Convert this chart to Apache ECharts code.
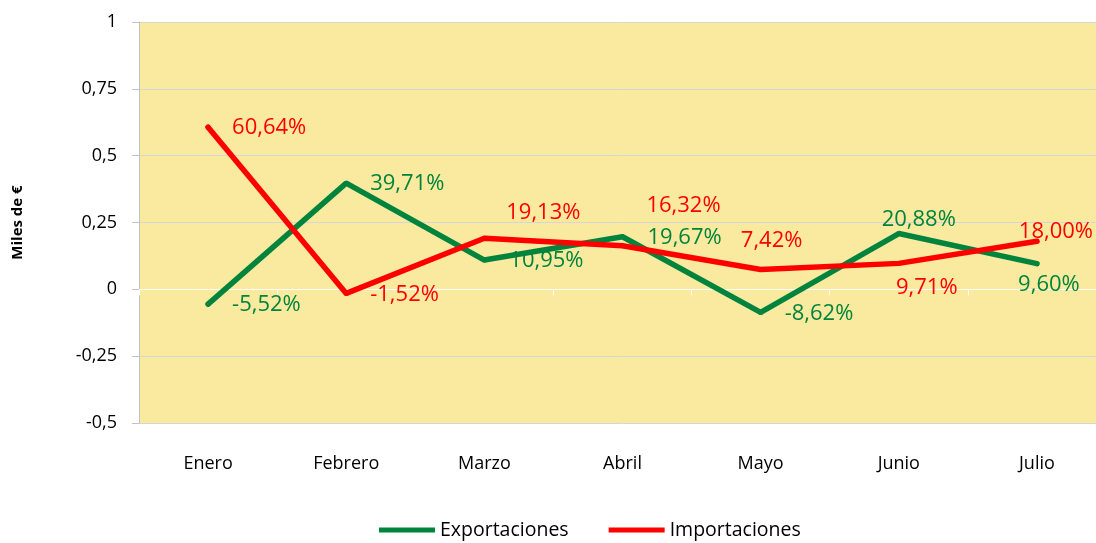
<!DOCTYPE html>
<html>
<head>
<meta charset="utf-8">
<title>Exportaciones e Importaciones</title>
<script src="https://cdn.jsdelivr.net/npm/echarts@6/dist/echarts.min.js"></script>
<style>
	html,body{margin:0;padding:0;background:#fff;overflow:hidden;}
	/* el area de trazado sigue un poco mas alla del borde derecho, como en el original */
	#main{width:1106px;height:543px;}
</style>
</head>
<body>
<div id="main"></div>
<script type="text/javascript">
	var meses = ['Enero','Febrero','Marzo','Abril','Mayo','Junio','Julio'];
	var exportaciones = [-0.0552, 0.3971, 0.1095, 0.1967, -0.0862, 0.2088, 0.0960];
	var importaciones = [0.6064, -0.0152, 0.1913, 0.1632, 0.0742, 0.0971, 0.1800];
	var ticksY = [-0.5, -0.25, 0, 0.25, 0.5, 0.75, 1];

	var verde = '#00843d';
	var rojo = '#ff0000';
	var fuente = '"Open Sans", "Liberation Sans", sans-serif';

	// desplazamiento de cada etiqueta respecto a su punto (px) y alineacion
	var etqExp = [
		{align:'left', off:[24,1]},
		{align:'left', off:[24,1]},
		{align:'left', off:[25,1]},
		{align:'left', off:[25,1]},
		{align:'left', off:[24,1]},
		{align:'center', off:[20,-14]},
		{align:'center', off:[12,21]}
	];
	var etqImp = [
		{align:'left', off:[24,1]},
		{align:'left', off:[24,1]},
		{align:'center', off:[59,-25]},
		{align:'center', off:[61,-40]},
		{align:'center', off:[11,-29]},
		{align:'center', off:[28,24]},
		{align:'center', off:[19,-9]}
	];

	function pct(v){
		return (v*100).toFixed(2).replace('.', ',') + '%';
	}

	function armarDatos(vals, etq, color){
		var out = [];
		for(var i=0;i<vals.length;i++){
			out.push({
				value: vals[i],
				label: {show: true, position: 'inside', align: etq[i].align, verticalAlign: 'middle', offset: etq[i].off, color: color}
			});
		}
		return out;
	}

	var myChart = echarts.init(document.getElementById('main'));
	var option = {
		animation: false,
		textStyle: {fontFamily: fuente},
		grid: {left: 139, top: 22, right: 0, bottom: 120},
		legend: {
			bottom: -2,
			left: 374,
			itemWidth: 56,
			itemHeight: 5,
			itemGap: 40,
			icon: 'rect',
			textStyle: {fontSize: 19.5, color: '#000', fontFamily: fuente},
			data: ['Exportaciones','Importaciones']
		},
		xAxis: [
			{
				type: 'category',
				data: meses,
				position: 'bottom',
				axisLine: {show: false, onZero: false},
				axisTick: {show: false},
				axisLabel: {margin: 32, fontSize: 18, color: '#000'}
			},
			{
				type: 'category',
				data: meses,
				position: 'top',
				axisLine: {show: true, onZero: true, lineStyle: {color: '#ffffff'}},
				axisTick: {show: true, inside: true, length: 6, lineStyle: {color: '#ffffff'}},
				axisLabel: {show: false}
			}
		],
		yAxis: {
			type: 'value',
			min: ticksY[0],
			max: ticksY[ticksY.length-1],
			interval: 0.25,
			name: 'Miles de €',
			nameLocation: 'middle',
			nameGap: 114,
			nameTextStyle: {fontSize: 15, fontWeight: 'bold', color: '#000'},
			axisLine: {show: true, lineStyle: {color: '#c0c0c0'}},
			axisTick: {show: true, length: 7, lineStyle: {color: '#c0c0c0'}},
			axisLabel: {
				margin: 22,
				fontSize: 18,
				color: '#000',
				formatter: function(v){ return String(v).replace('.', ','); }
			},
			splitLine: {show: true, lineStyle: {color: ['#d6d6d6','#d6d6d6','#ffffff','#d6d6d6','#d6d6d6','#d6d6d6','#d6d6d6']}},
			splitArea: {show: true, areaStyle: {color: ['#f9ea9f']}}
		},
		series: [
			{
				name: 'Exportaciones',
				type: 'line',
				xAxisIndex: 0,
				data: armarDatos(exportaciones, etqExp, verde),
				symbol: 'circle',
				symbolSize: 5,
				showSymbol: true,
				itemStyle: {color: verde},
				lineStyle: {width: 5.5, color: verde, cap: 'round'},
				label: {show: true, fontSize: 22, fontFamily: fuente, formatter: function(p){ return pct(p.value); }}
			},
			{
				name: 'Importaciones',
				type: 'line',
				xAxisIndex: 0,
				data: armarDatos(importaciones, etqImp, rojo),
				symbol: 'circle',
				symbolSize: 5,
				showSymbol: true,
				itemStyle: {color: rojo},
				lineStyle: {width: 5.5, color: rojo, cap: 'round'},
				label: {show: true, fontSize: 22, fontFamily: fuente, formatter: function(p){ return pct(p.value); }}
			}
		]
	};
	myChart.setOption(option);
</script>
</body>
</html>
